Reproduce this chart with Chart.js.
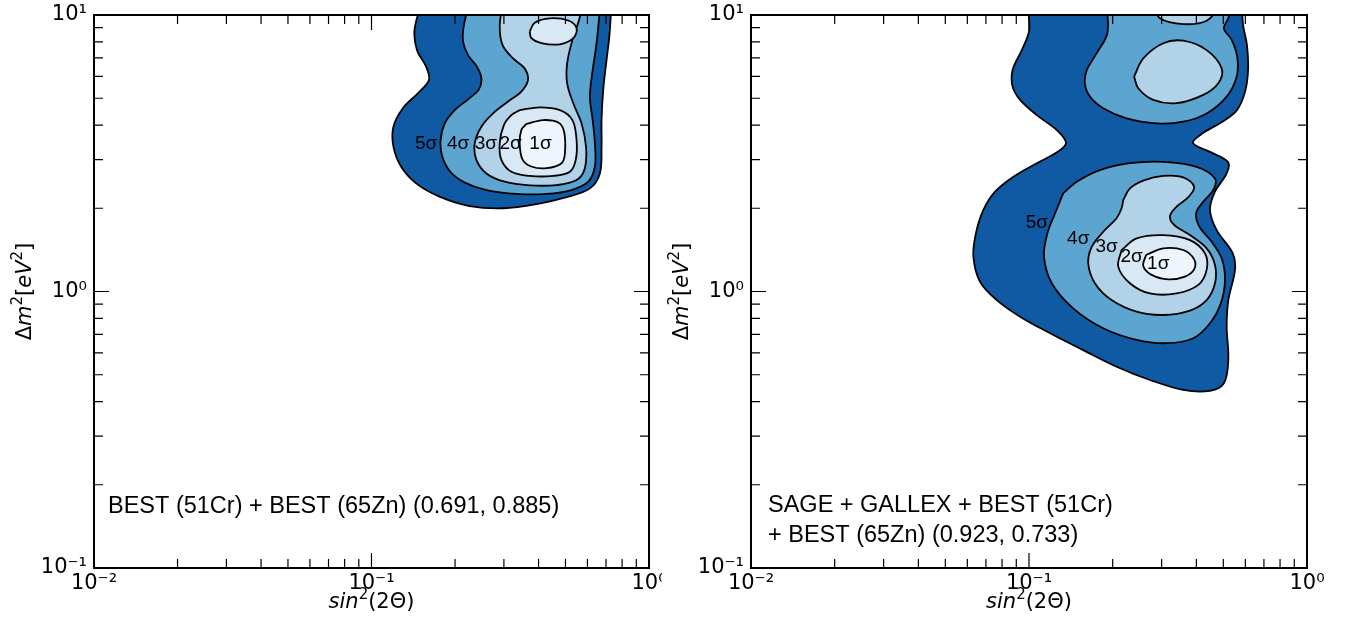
<!DOCTYPE html>
<html><head><meta charset="utf-8">
<script src="https://cdn.jsdelivr.net/npm/chart.js@4.4.1/dist/chart.umd.min.js"></script>
<style>
html,body{margin:0;padding:0;background:#fff;width:1354px;height:630px;overflow:hidden}
#c1{position:absolute;left:0;top:0}
#c2{position:absolute;left:657px;top:0}
</style></head><body>
<canvas id="c1" width="662" height="630"></canvas>
<canvas id="c2" width="678" height="630"></canvas>
<script>
// ---------- data (contours as [log10 sin^2(2Θ), log10 Δm^2]) ----------
const sigmaLabels = ['1σ','2σ','3σ','4σ','5σ'];
const xTickValues = [0.01, 0.1, 1];
const xTickLabels = ['10⁻²','10⁻¹','10⁰'];
const yTickValues = [0.1, 1, 10];
const yTickLabels = ['10⁻¹','10⁰','10¹'];

const leftNote = ['BEST (51Cr) + BEST (65Zn) (0.691, 0.885)'];
const rightNote = ['SAGE + GALLEX + BEST (51Cr)', '+ BEST (65Zn) (0.923, 0.733)'];

// Left panel: BEST only
const left5 = [[-0.821,1.04],[-0.845,0.946],[-0.836,0.873],[-0.803,0.813],[-0.793,0.765],[-0.833,0.717],[-0.887,0.663],[-0.921,0.596],[-0.921,0.524],[-0.893,0.451],[-0.839,0.391],[-0.755,0.343],[-0.646,0.309],[-0.526,0.301],[-0.405,0.316],[-0.297,0.341],[-0.213,0.373],[-0.177,0.427],[-0.171,0.524],[-0.171,0.620],[-0.165,0.729],[-0.153,0.837],[-0.143,0.922],[-0.135,1.04]];
const left4 = [[-0.649,1.04],[-0.668,0.958],[-0.670,0.904],[-0.652,0.855],[-0.620,0.813],[-0.604,0.771],[-0.613,0.731],[-0.652,0.695],[-0.700,0.656],[-0.736,0.608],[-0.751,0.548],[-0.745,0.488],[-0.716,0.433],[-0.664,0.394],[-0.586,0.367],[-0.478,0.353],[-0.369,0.353],[-0.279,0.367],[-0.219,0.397],[-0.195,0.452],[-0.195,0.536],[-0.203,0.620],[-0.213,0.705],[-0.203,0.801],[-0.189,0.898],[-0.175,1.04]];
const left3 = [[-0.528,1.04],[-0.538,0.958],[-0.528,0.892],[-0.490,0.843],[-0.448,0.807],[-0.436,0.765],[-0.460,0.723],[-0.508,0.687],[-0.562,0.644],[-0.604,0.596],[-0.628,0.536],[-0.622,0.476],[-0.586,0.427],[-0.520,0.397],[-0.430,0.384],[-0.333,0.385],[-0.261,0.403],[-0.231,0.446],[-0.227,0.524],[-0.243,0.608],[-0.273,0.681],[-0.295,0.753],[-0.295,0.825],[-0.276,0.910],[-0.252,0.982],[-0.240,1.04]];
const left2a = [[-0.466,0.656],[-0.394,0.666],[-0.321,0.656],[-0.276,0.620],[-0.261,0.548],[-0.264,0.476],[-0.285,0.433],[-0.345,0.418],[-0.430,0.418],[-0.496,0.433],[-0.532,0.476],[-0.538,0.536],[-0.523,0.602],[-0.496,0.638]];
const left2b = [[-0.430,0.940],[-0.412,0.972],[-0.357,0.988],[-0.291,0.980],[-0.261,0.952],[-0.273,0.916],[-0.321,0.894],[-0.388,0.898],[-0.424,0.916]];
const left1 = [[-0.442,0.606],[-0.382,0.620],[-0.327,0.611],[-0.306,0.578],[-0.303,0.500],[-0.315,0.464],[-0.369,0.446],[-0.424,0.452],[-0.456,0.478],[-0.466,0.536],[-0.460,0.584]];
const leftLabelAnchors = [[-0.391,0.534],[-0.499,0.534],[-0.588,0.534],[-0.688,0.534],[-0.803,0.534]];

// Right panel: SAGE + GALLEX + BEST
const right5 = [[-1.006,1.04],[-0.999,0.946],[-1.026,0.873],[-1.059,0.801],[-1.059,0.741],[-1.032,0.693],[-0.972,0.638],[-0.900,0.584],[-0.867,0.538],[-0.895,0.506],[-0.972,0.464],[-1.056,0.415],[-1.122,0.361],[-1.164,0.295],[-1.191,0.210],[-1.200,0.126],[-1.176,0.035],[-1.116,-0.031],[-1.032,-0.091],[-0.924,-0.151],[-0.805,-0.212],[-0.685,-0.272],[-0.565,-0.320],[-0.445,-0.356],[-0.349,-0.359],[-0.299,-0.332],[-0.283,-0.248],[-0.289,-0.127],[-0.283,-0.031],[-0.259,0.078],[-0.267,0.138],[-0.325,0.222],[-0.349,0.295],[-0.331,0.361],[-0.289,0.427],[-0.284,0.468],[-0.349,0.505],[-0.410,0.537],[-0.374,0.573],[-0.306,0.613],[-0.252,0.656],[-0.223,0.722],[-0.212,0.801],[-0.216,0.892],[-0.230,0.964],[-0.234,1.04]];
const right4a = [[-0.721,1.04],[-0.718,0.934],[-0.757,0.861],[-0.792,0.801],[-0.799,0.753],[-0.781,0.705],[-0.733,0.663],[-0.649,0.626],[-0.541,0.608],[-0.445,0.614],[-0.361,0.644],[-0.289,0.705],[-0.253,0.777],[-0.251,0.849],[-0.271,0.910],[-0.299,0.952],[-0.283,0.988],[-0.265,1.04]];
const right4b = [[-0.877,0.355],[-0.828,0.397],[-0.745,0.439],[-0.637,0.464],[-0.517,0.469],[-0.397,0.451],[-0.331,0.409],[-0.337,0.367],[-0.373,0.325],[-0.399,0.283],[-0.387,0.234],[-0.343,0.180],[-0.307,0.120],[-0.295,0.042],[-0.310,-0.043],[-0.349,-0.115],[-0.409,-0.169],[-0.505,-0.187],[-0.613,-0.175],[-0.733,-0.133],[-0.841,-0.061],[-0.918,0.030],[-0.946,0.126],[-0.934,0.210],[-0.906,0.283]];
const right3a = [[-0.622,0.777],[-0.589,0.843],[-0.517,0.898],[-0.445,0.907],[-0.361,0.873],[-0.307,0.807],[-0.319,0.753],[-0.373,0.711],[-0.469,0.681],[-0.553,0.693],[-0.607,0.735]];
const right3b = [[-0.553,1.04],[-0.529,0.988],[-0.445,0.967],[-0.361,0.979],[-0.307,1.04]];
const right3c = [[-0.661,0.331],[-0.637,0.373],[-0.589,0.401],[-0.517,0.418],[-0.445,0.413],[-0.406,0.379],[-0.427,0.341],[-0.469,0.307],[-0.493,0.273],[-0.478,0.241],[-0.421,0.204],[-0.361,0.156],[-0.331,0.096],[-0.331,0.030],[-0.361,-0.031],[-0.421,-0.069],[-0.517,-0.085],[-0.613,-0.073],[-0.703,-0.031],[-0.763,0.030],[-0.787,0.102],[-0.774,0.162],[-0.733,0.216],[-0.685,0.265],[-0.667,0.301]];
const right2 = [[-0.667,0.150],[-0.613,0.192],[-0.517,0.204],[-0.421,0.186],[-0.367,0.138],[-0.361,0.078],[-0.391,0.024],[-0.469,-0.007],[-0.565,-0.007],[-0.637,0.030],[-0.679,0.090]];
const right1 = [[-0.579,0.132],[-0.517,0.156],[-0.445,0.150],[-0.406,0.116],[-0.406,0.080],[-0.439,0.054],[-0.499,0.044],[-0.559,0.060],[-0.589,0.092]];
const rightLabelAnchors = [[-0.535,0.102],[-0.631,0.126],[-0.721,0.162],[-0.823,0.192],[-0.972,0.250]];

// contour sets: [outline, sigma level]
const leftContours = [[left5,5],[left4,4],[left3,3],[left2a,2],[left2b,2],[left1,1]];
const rightContours = [[right5,5],[right4a,4],[right4b,4],[right3a,3],[right3b,3],[right3c,3],[right2,2],[right1,1]];

// ---------- styles ----------
const levelColors = ['#eef5fc','#d9e8f5','#b2d2e8','#5da5d1','#0f5aa3'];
Chart.defaults.font.family = '"DejaVu Sans"';
Chart.defaults.color = '#000';

function buildDatasets(contours) {
  return contours.map(([pts, level]) => {
    const data = pts.map(([lx, ly]) => ({x: Math.pow(10, lx), y: Math.pow(10, ly)}));
    if (pts[0][1] < 1) data.push({...data[0]});
    return {data, showLine: true, fill: 'shape', backgroundColor: levelColors[level - 1],
      borderColor: '#000', borderWidth: 1.8, pointRadius: 0, pointHoverRadius: 0,
      tension: 0.35, order: level};
  });
}

function drawRuns(ctx, runs, tx, ty, size, rot) {
  const fam = '"DejaVu Sans"';
  const font = st => (st === 'i' || st === 'is' ? 'italic ' : '') +
    ((st === 's' || st === 'is') ? Math.round(size * 0.7) : size) + 'px ' + fam;
  let w = 0;
  for (const [t, st] of runs) { ctx.font = font(st); w += ctx.measureText(t).width; }
  ctx.save();
  ctx.translate(tx, ty); ctx.rotate(rot);
  ctx.textAlign = 'left'; ctx.textBaseline = 'alphabetic'; ctx.fillStyle = '#000';
  let xx = -w / 2;
  for (const [t, st] of runs) {
    ctx.font = font(st);
    ctx.fillText(t, xx, (st === 's' || st === 'is') ? -size * 0.42 : 0);
    xx += ctx.measureText(t).width;
  }
  ctx.restore();
}

const decor = {
  id: 'decor',
  afterDatasetsDraw(chart, args, opts) {
    const {ctx, chartArea: a, scales: {x, y}} = chart;
    ctx.save();
    // inward tick marks on all four sides
    ctx.strokeStyle = '#000'; ctx.lineWidth = 1.2;
    const major = 15, minor = 9;
    const marks = (scale) => {
      const out = [];
      const lo = Math.round(Math.log10(scale.min)), hi = Math.round(Math.log10(scale.max));
      for (let e = lo; e <= hi; e++) for (let m = 1; m < 10; m++) {
        const v = m * Math.pow(10, e);
        if (v < scale.min * 0.999 || v > scale.max * 1.001) continue;
        out.push([scale.getPixelForValue(v), m === 1 ? major : minor]);
      }
      return out;
    };
    ctx.beginPath();
    for (const [px, len] of marks(x)) {
      ctx.moveTo(px, a.bottom); ctx.lineTo(px, a.bottom - len);
      ctx.moveTo(px, a.top); ctx.lineTo(px, a.top + len);
    }
    for (const [py, len] of marks(y)) {
      ctx.moveTo(a.left, py); ctx.lineTo(a.left + len, py);
      ctx.moveTo(a.right, py); ctx.lineTo(a.right - len, py);
    }
    ctx.stroke();
    // frame
    ctx.lineWidth = 2;
    ctx.strokeRect(a.left, a.top, a.right - a.left, a.bottom - a.top);
    // contour labels
    ctx.fillStyle = '#000';
    ctx.font = '19px "Liberation Sans"';
    ctx.textAlign = 'center'; ctx.textBaseline = 'middle';
    opts.anchors.forEach(([lx, ly], i) => {
      ctx.fillText(sigmaLabels[i], x.getPixelForValue(Math.pow(10, lx)), y.getPixelForValue(Math.pow(10, ly)));
    });
    // note
    ctx.font = '23.5px "Liberation Sans"';
    ctx.textAlign = 'left'; ctx.textBaseline = 'alphabetic';
    opts.note.forEach((line, i) => {
      ctx.fillText(line, a.left + opts.noteDx, a.bottom - opts.noteDy + i * 30);
    });
    // axis titles
    drawRuns(ctx, [['sin','i'],['2','s'],['(2Θ)','r']], (a.left + a.right) / 2, a.bottom + 40, 21, 0);
    drawRuns(ctx, [['Δ','r'],['m','i'],['2','s'],['[','r'],['eV','i'],['2','s'],[']','r']], a.left - 63, (a.top + a.bottom) / 2, 21, -Math.PI / 2);
    ctx.restore();
  }
};

function makeChart(id, contours, anchors, note, padRight, noteDx, noteDy) {
  return new Chart(document.getElementById(id), {
    type: 'scatter',
    data: {datasets: buildDatasets(contours)},
    options: {
      responsive: false, devicePixelRatio: 1, animation: false,
      layout: {padding: {top: 15, right: padRight, left: 0, bottom: 0}},
      plugins: {legend: {display: false}, tooltip: {enabled: false},
        decor: {anchors, note, noteDx, noteDy}},
      events: [],
      scales: {
        x: {type: 'logarithmic', min: 0.01, max: 1, position: 'bottom',
          afterBuildTicks: s => { s.ticks = xTickValues.map(v => ({value: v})); },
          ticks: {callback: (v, i) => xTickLabels[i], autoSkip: false, maxRotation: 0, minRotation: 0,
            padding: 3, color: '#000', font: {family: '"DejaVu Sans"', size: 21}},
          grid: {display: false, drawTicks: false}, border: {display: false},
          afterFit: s => { s.height = 62; s.paddingLeft = 0; s.paddingRight = 0; }},
        y: {type: 'logarithmic', min: 0.1, max: 10, position: 'left',
          afterBuildTicks: s => { s.ticks = yTickValues.map(v => ({value: v})); },
          ticks: {callback: (v, i) => yTickLabels[i], autoSkip: false, padding: 7, color: '#000',
            font: {family: '"DejaVu Sans"', size: 21}},
          grid: {display: false, drawTicks: false}, border: {display: false},
          afterFit: s => { s.width = 94; s.paddingTop = 0; s.paddingBottom = 0; }}
      }
    },
    plugins: [decor]
  });
}

makeChart('c1', leftContours, leftLabelAnchors, leftNote, 13, 14, 55);
makeChart('c2', rightContours, rightLabelAnchors, rightNote, 28, 17, 56);
</script>
</body></html>
